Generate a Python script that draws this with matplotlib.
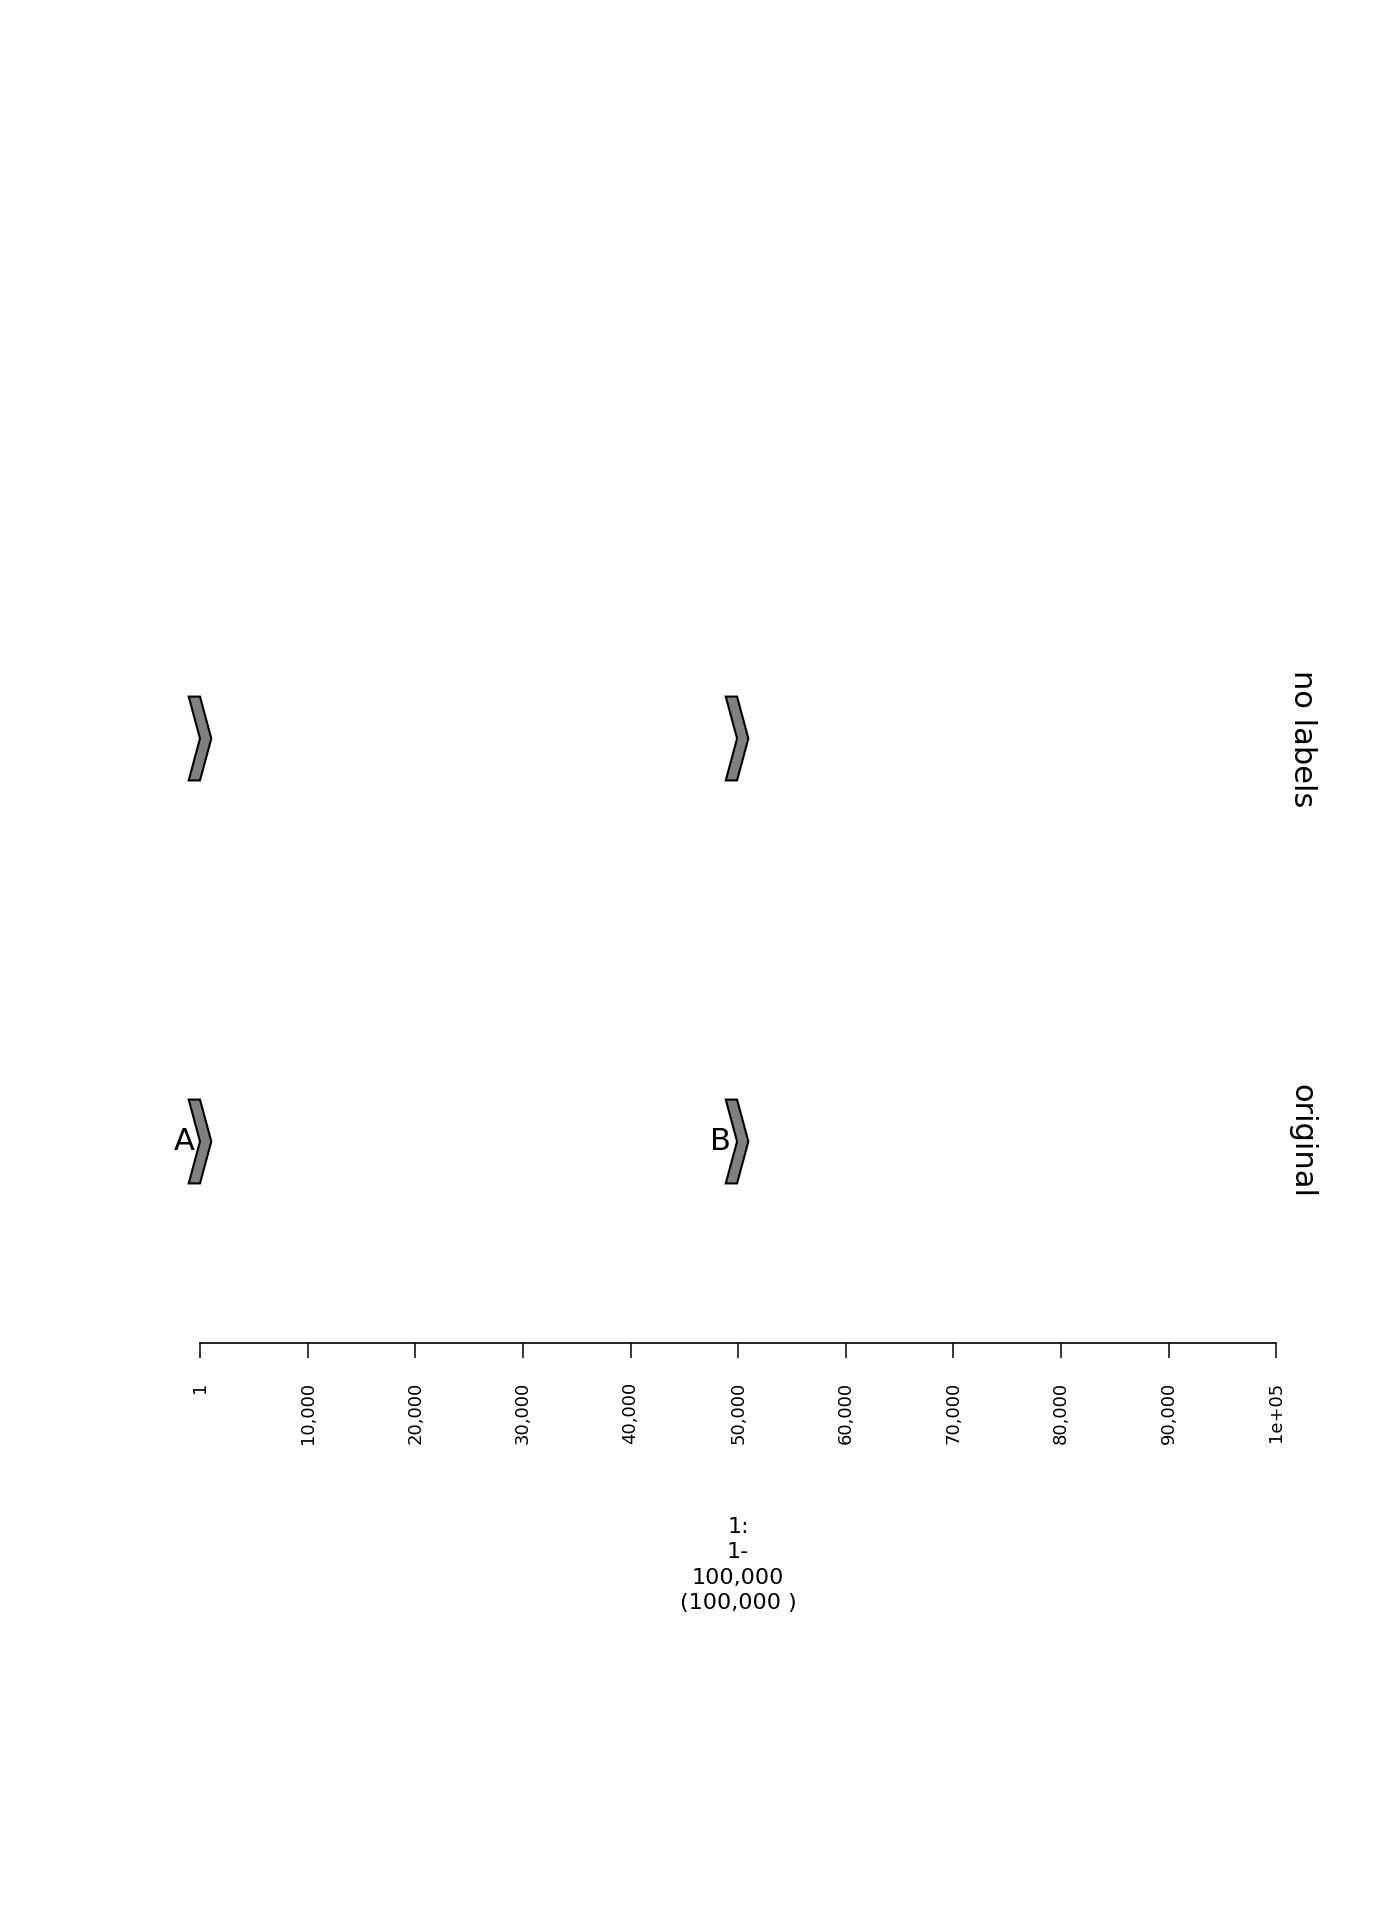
import matplotlib
matplotlib.use('Agg')
import matplotlib.pyplot as plt
from matplotlib.patches import Polygon
import matplotlib.transforms as mtransforms

# rows, bottom to top
row_names = ['original', 'no labels']
row_show_labels = [True, False]

# genes (position of the arrow back corner, in bp)
gene_names = ['A', 'B']
gene_pos = [1, 49900]

tick_values = [1, 10000, 20000, 30000, 40000, 50000, 60000, 70000, 80000, 90000, 100000]
tick_labels = ['1', '10,000', '20,000', '30,000', '40,000', '50,000',
               '60,000', '70,000', '80,000', '90,000', '1e+05']
x_range = (1, 100000)
scale_text = '1:\n1-\n100,000\n(100,000 )'

# arrow style
head_bp = 1050
half_h = 0.104

fig = plt.figure(figsize=(14, 19.2), dpi=100)
ax = fig.add_axes([200 / 1400, 577 / 1920, 1076.3 / 1400, 806 / 1920])
ax.set_xlim(*x_range)
ax.set_ylim(-0.5, 1.5)

for row, show in enumerate(row_show_labels):
    for name, pos in zip(gene_names, gene_pos):
        pts = [(pos - head_bp, row + half_h), (pos, row + half_h),
               (pos + head_bp, row), (pos, row - half_h),
               (pos - head_bp, row - half_h), (pos, row)]
        ax.add_patch(Polygon(pts, closed=True, facecolor='#808080',
                             edgecolor='black', linewidth=1.5, clip_on=False))
        if show:
            ax.annotate(name, xy=(pos - head_bp, row), xytext=(4, 0),
                        textcoords='offset points', ha='right', va='center',
                        fontsize=22, annotation_clip=False)

trans = mtransforms.blended_transform_factory(fig.transFigure, ax.transData)
for row, name in enumerate(row_names):
    ax.text(1302 / 1400, row, name, transform=trans, rotation=-90,
            ha='center', va='center', fontsize=22, clip_on=False)

for side in ['top', 'left', 'right']:
    ax.spines[side].set_visible(False)
ax.spines['bottom'].set_linewidth(1.2)
ax.set_yticks([])
ax.set_xticks(tick_values)
ax.set_xticklabels(tick_labels, rotation=90, fontsize=13)
ax.tick_params(axis='x', length=11, width=1.1, pad=17)

fig.text(0.5 * (200 + 1276.3) / 1400, (1920 - 1565) / 1920, scale_text,
         ha='center', va='center', multialignment='center', fontsize=16,
         linespacing=1.35)

fig.savefig('out.png', dpi=100, facecolor='white')
